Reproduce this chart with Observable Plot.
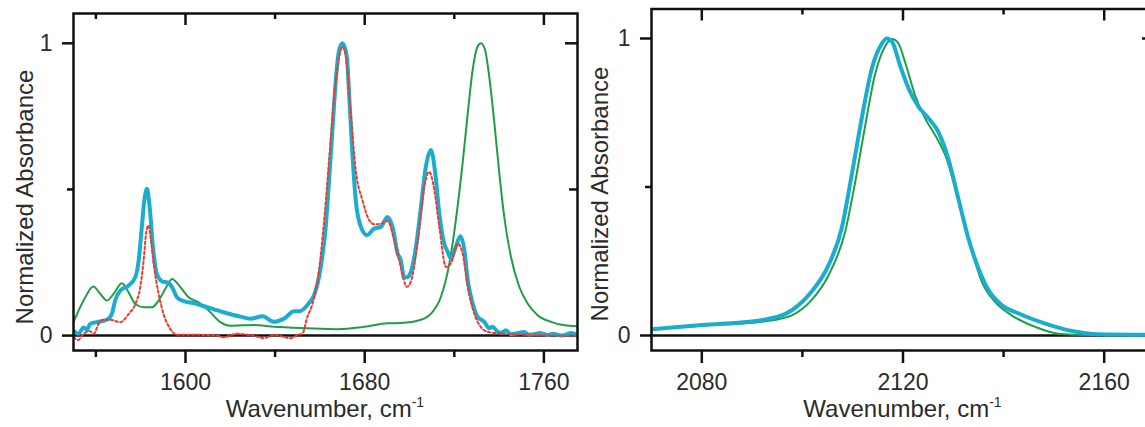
<!DOCTYPE html>
<html><head><meta charset="utf-8">
<script src="https://cdn.jsdelivr.net/npm/d3@7"></script>
<script src="https://cdn.jsdelivr.net/npm/@observablehq/plot@0.6"></script>
<style>
html,body{margin:0;padding:0;background:#fff;overflow:hidden;}
#wrap{position:relative;width:1145px;height:427px;overflow:hidden;background:#fff;}
#wrap svg{position:absolute;top:0;}
</style></head><body><div id="wrap"></div>
<script>
// ---------- data (wavenumber cm^-1, normalized absorbance) ----------
const leftCyan = [[1550,0.017],[1552.2,0.006],[1554.5,0.028],[1556,0.02],[1557.4,0.04],[1560.4,0.046],[1564.9,0.054],[1567.1,0.074],[1568.6,0.12],[1570.9,0.154],[1574.6,0.171],[1577.6,0.2],[1579.1,0.257],[1580.5,0.371],[1581.6,0.462],[1582.8,0.502],[1584,0.44],[1585.5,0.30],[1587.2,0.211],[1589.5,0.186],[1592.5,0.18],[1594,0.166],[1596.2,0.131],[1599.2,0.118],[1603.6,0.111],[1609.6,0.097],[1617,0.08],[1624.5,0.065],[1629.1,0.058],[1634.3,0.066],[1639.5,0.047],[1644,0.058],[1648.5,0.083],[1650.7,0.083],[1655.2,0.112],[1657.4,0.138],[1660.4,0.235],[1662.6,0.372],[1664.1,0.532],[1665.6,0.703],[1667.1,0.874],[1668.6,0.977],[1670.1,1.0],[1672,0.955],[1673.1,0.817],[1674.5,0.623],[1676,0.463],[1678.3,0.372],[1681,0.344],[1684.2,0.366],[1687.2,0.372],[1690.2,0.406],[1692.4,0.372],[1694.7,0.281],[1696.1,0.258],[1697.6,0.198],[1699.1,0.2],[1700.6,0.218],[1702.9,0.304],[1705.1,0.44],[1707.3,0.578],[1709.6,0.635],[1711.5,0.555],[1713.3,0.418],[1715.5,0.315],[1717,0.287],[1718.5,0.264],[1720.7,0.304],[1722.7,0.34],[1724.5,0.292],[1726,0.189],[1728.2,0.11],[1730.4,0.064],[1733.4,0.047],[1735.6,0.025],[1737,0.03],[1739.4,0.013],[1741,0.01],[1743,0.018],[1745.3,0.005],[1748,0.008],[1751.3,0.012],[1753,0.004],[1755.7,0.005],[1758,0.009],[1761.7,0.002],[1764,0.006],[1767.7,0.0],[1770,0.004],[1772.1,0.009],[1775,0.002]];

const leftRed = [[1550,-0.006],[1552,-0.015],[1554.5,0.006],[1557.4,0.015],[1559,0.006],[1561.2,0.04],[1563.4,0.054],[1566.4,0.054],[1570.9,0.046],[1574.6,0.074],[1577.6,0.108],[1579.8,0.166],[1581.3,0.257],[1582.5,0.354],[1583.5,0.377],[1584.6,0.325],[1586,0.234],[1588,0.143],[1590.2,0.074],[1593.2,0.023],[1596.2,0.003],[1602,0.003],[1614,0],[1617,-0.006],[1623,0.006],[1630.6,-0.001],[1635,-0.009],[1639.5,0.002],[1647,-0.009],[1650,0.002],[1652.2,0.007],[1654.4,0.064],[1656.7,0.109],[1659.6,0.223],[1661.9,0.395],[1664.1,0.6],[1666.4,0.817],[1668.6,0.955],[1670.1,0.988],[1671.6,0.955],[1673.8,0.76],[1676,0.566],[1679,0.463],[1682,0.395],[1684.2,0.381],[1687.2,0.383],[1690.2,0.392],[1693.2,0.326],[1696.1,0.235],[1698.8,0.167],[1700.6,0.185],[1704.3,0.361],[1706.6,0.509],[1708.8,0.56],[1711.1,0.497],[1713.3,0.372],[1716.3,0.235],[1718.5,0.247],[1721.5,0.315],[1723.7,0.281],[1726,0.167],[1728.9,0.075],[1731.9,0.029],[1734.9,0.013],[1740.8,0.007],[1755.7,0.002],[1775,-0.001]];

const leftGreen = [[1550,0.046],[1554.5,0.12],[1558.9,0.168],[1561.9,0.143],[1564.9,0.12],[1567.9,0.143],[1571.6,0.179],[1574.6,0.148],[1577.6,0.108],[1581.3,0.097],[1585,0.097],[1588,0.12],[1591,0.16],[1594,0.194],[1597.7,0.166],[1601.4,0.131],[1605.9,0.114],[1611.1,0.08],[1615.5,0.046],[1620,0.034],[1630.4,0.036],[1639.5,0.03],[1654.4,0.025],[1667.8,0.022],[1679.8,0.03],[1690.2,0.042],[1696.2,0.043],[1705.1,0.054],[1709.6,0.075],[1714,0.132],[1717.8,0.247],[1720.7,0.395],[1723.7,0.589],[1726,0.76],[1728.2,0.909],[1730.4,0.989],[1731.9,1.0],[1733.7,0.978],[1735.6,0.886],[1737.9,0.726],[1740.1,0.555],[1742.3,0.406],[1745.3,0.269],[1749,0.167],[1752.8,0.109],[1757.2,0.07],[1763.2,0.047],[1769.2,0.035],[1775,0.032]];

const rightCyan = [[2070,0.021],[2080,0.035],[2092.6,0.054],[2097.9,0.085],[2101.8,0.147],[2105.2,0.237],[2107.8,0.36],[2109.8,0.54],[2111.8,0.731],[2113.8,0.899],[2115.8,0.983],[2116.8,1.0],[2117.8,0.99],[2119.4,0.91],[2121.1,0.832],[2123.1,0.77],[2125.1,0.731],[2127,0.686],[2129,0.596],[2131,0.461],[2133,0.327],[2135,0.226],[2137,0.153],[2139.7,0.102],[2143,0.074],[2148.3,0.04],[2153.6,0.015],[2158.9,0.004],[2170,0.002]];

const rightGreen = [[2070,0.021],[2080,0.033],[2092.6,0.048],[2097.9,0.068],[2101.8,0.119],[2105.2,0.203],[2108.5,0.349],[2110.5,0.517],[2112.5,0.708],[2114.4,0.876],[2116.4,0.972],[2117.9,0.998],[2119.1,0.983],[2120.4,0.921],[2122.4,0.809],[2124.4,0.731],[2126.4,0.674],[2128.4,0.607],[2130.4,0.495],[2133,0.327],[2135.7,0.18],[2138.3,0.113],[2141.6,0.068],[2146.3,0.029],[2150.9,0.006],[2156.2,0.002],[2170,0.002]];

const leftMajorTicks = [1600, 1680, 1760];
const leftMinorTicks = [1560, 1640, 1720];
const rightMajorTicks = [2080, 2120, 2160];
const rightMinorTicks = [2100, 2140];
const yMajorTicks = [0, 1];
const yMinorTicks = [0.5];
const xTitle = "Wavenumber, cm";
const xTitleSup = "-1";
const yTitle = "Normalized Absorbance";

// ---------- styling ----------
const FONT = "'Liberation Sans', Arial, Helvetica, sans-serif";
const INK = "#111";
const TEXT = "#2b2b2b";
const CYAN = "#19aecf";
const GREEN = "#1f9e45";
const RED = "#ef3b2e";
const H = 427, MB = 77;

function panel(o) {
  const fw = o.width - o.mLeft - o.mRight;
  const fh = H - o.mTop - MB;
  const axisStyle = {stroke: INK, fill: TEXT, strokeWidth: 2.5, fontSize: 23, label: null};
  const marks = [
    Plot.ruleY([0], {stroke: INK, strokeWidth: 2.5}),
    ...o.lines.map(l => Plot.line(l.data, {x: d => d[0], y: d => d[1], stroke: l.color, strokeWidth: l.width, strokeDasharray: l.dash, curve: "monotone-x", clip: true})),
    Plot.axisY({...axisStyle, ticks: yMajorTicks, tickSize: 11, tickPadding: 10, tickFormat: "d"}),
    Plot.axisY({...axisStyle, ticks: yMinorTicks, tickSize: 6, tickFormat: () => ""}),
    Plot.axisX({...axisStyle, ticks: o.major, tickSize: 13, tickPadding: 10, tickFormat: "d"}),
    Plot.axisX({...axisStyle, ticks: o.minor, tickSize: 7, tickFormat: () => ""}),
    Plot.tickX(o.major, {x: d => d, insetBottom: fh - 12, stroke: INK, strokeWidth: 2.5}),
    Plot.tickX(o.minor, {x: d => d, insetBottom: fh - 6, stroke: INK, strokeWidth: 2.5}),
    Plot.tickY([1], {y: d => d, insetLeft: fw - 12, stroke: INK, strokeWidth: 2.5}),
    Plot.tickY(yMinorTicks, {y: d => d, insetLeft: fw - 8, stroke: INK, strokeWidth: 2.5}),
    Plot.frame({stroke: INK, strokeWidth: 2.5})
  ];
  const svg = Plot.plot({
    width: o.width, height: H,
    marginLeft: o.mLeft, marginRight: o.mRight, marginTop: o.mTop, marginBottom: MB,
    x: {domain: o.xDomain},
    y: {domain: o.yDomain},
    style: {fontFamily: FONT, fontSize: "23px", color: INK, background: "transparent", overflow: "visible"},
    marks
  });
  svg.style.left = o.left + "px";
  svg.style.maxWidth = "none";
  const s = d3.select(svg);
  const xt = s.append("text")
    .attr("x", o.mLeft + fw / 2).attr("y", 417)
    .attr("text-anchor", "middle").attr("fill", TEXT)
    .attr("font-family", FONT).attr("font-size", 24);
  xt.append("tspan").text(xTitle);
  xt.append("tspan").attr("dy", -10).attr("font-size", 14).text(xTitleSup);
  s.append("text")
    .attr("transform", `translate(${o.yLabelX},${o.yLabelY}) rotate(-90)`)
    .attr("text-anchor", "middle").attr("fill", TEXT)
    .attr("font-family", FONT).attr("font-size", 24)
    .text(yTitle);
  document.getElementById("wrap").appendChild(svg);
}

panel({
  left: 0, width: 600, mLeft: 73, mRight: 23, mTop: 13,
  xDomain: [1550, 1775], yDomain: [-0.051, 1.102],
  major: leftMajorTicks, minor: leftMinorTicks,
  yLabelX: 33, yLabelY: 197,
  lines: [
    {data: leftGreen, color: GREEN, width: 2},
    {data: leftCyan, color: CYAN, width: 4},
    {data: leftRed, color: RED, width: 2, dash: "2.5,2.5"}
  ]
});

panel({
  left: 570, width: 600, mLeft: 81, mRight: 16, mTop: 8.5,
  xDomain: [2070, 2170], yDomain: [-0.0505, 1.0993],
  major: rightMajorTicks, minor: rightMinorTicks,
  yLabelX: 38, yLabelY: 194,
  lines: [
    {data: rightGreen, color: GREEN, width: 2},
    {data: rightCyan, color: CYAN, width: 4}
  ]
});
</script>
</body></html>
